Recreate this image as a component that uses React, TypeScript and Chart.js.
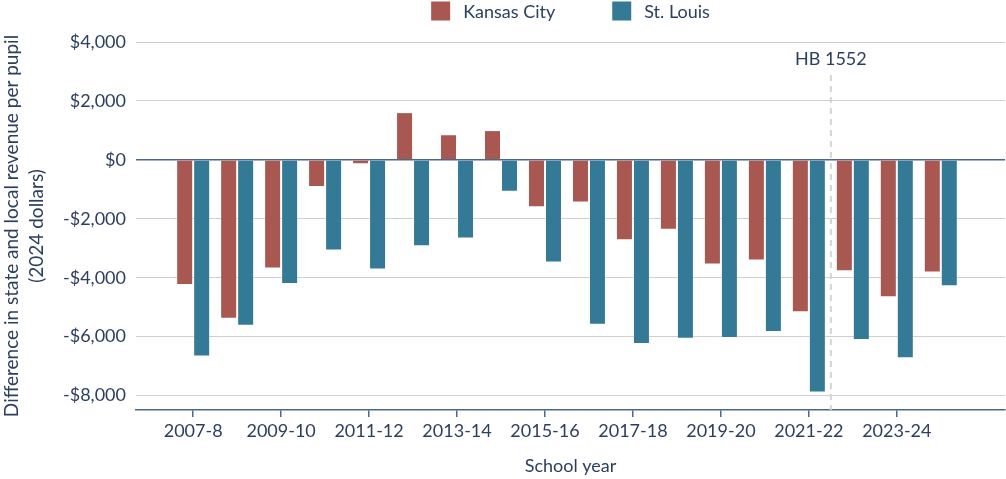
import { useEffect, useRef } from 'react';
import { Chart, registerables } from 'chart.js';

Chart.register(...registerables);

const categories = [
  '2007-8', '2008-9', '2009-10', '2010-11', '2011-12', '2012-13', '2013-14', '2014-15', '2015-16',
  '2016-17', '2017-18', '2018-19', '2019-20', '2020-21', '2021-22', '2022-23', '2023-24', '2024-25',
];
const startYear = 2007;
const kansasCity = [
  -4250, -5390, -3690, -920, -150, 1620, 870, 1010, -1610,
  -1450, -2730, -2370, -3550, -3420, -5170, -3780, -4660, -3820,
];
const stLouis = [
  -6670, -5630, -4210, -3080, -3720, -2930, -2670, -1080, -3480,
  -5600, -6250, -6070, -6050, -5840, -7900, -6110, -6730, -4290,
];
const xTickLabels = ['2007-8', '2009-10', '2011-12', '2013-14', '2015-16', '2017-18', '2019-20', '2021-22', '2023-24'];
const yTickValues = [4000, 2000, 0, -2000, -4000, -6000, -8000];
const seriesNames = ['Kansas City', 'St. Louis'];
const markerLabel = 'HB 1552';
const markerYear = 2021.5;

const TEXT = '#2b3f5e';
const AXIS = '#4d6788';
const FONT = 'Lato, "Open Sans", sans-serif';

const fmtMoney = (v: number) => (v < 0 ? '-$' : '$') + Math.abs(v).toLocaleString('en-US');

const customLegend = {
  id: 'customLegend',
  afterDraw(chart: any) {
    const ctx = chart.ctx;
    const fontSize = 18;
    const box = 19;
    const gap = 13;
    const itemGap = 57;
    ctx.save();
    ctx.font = `${fontSize}px ${FONT}`;
    const items = chart.data.datasets.map((d: any) => ({ text: d.label, color: d.backgroundColor }));
    const widths = items.map((it: any) => box + gap + ctx.measureText(it.text).width);
    const total = widths.reduce((a: number, b: number) => a + b, 0) + itemGap * (items.length - 1);
    const ca = chart.chartArea;
    let x = (ca.left + ca.right) / 2 - total / 2;
    const cy = 11;
    items.forEach((it: any, i: number) => {
      ctx.fillStyle = it.color;
      ctx.fillRect(x, cy - box / 2, box, box);
      ctx.fillStyle = TEXT;
      ctx.textBaseline = 'middle';
      ctx.textAlign = 'left';
      ctx.fillText(it.text, x + box + gap, cy + 1);
      x += widths[i] + itemGap;
    });
    ctx.restore();
  },
};

const markerPlugin = {
  id: 'markerLine',
  afterDatasetsDraw(chart: any) {
    const ctx = chart.ctx;
    const xs = chart.scales.x;
    const ca = chart.chartArea;
    const px = xs.getPixelForValue(markerYear);
    ctx.save();
    ctx.strokeStyle = '#d4d4d4';
    ctx.lineWidth = 2;
    ctx.setLineDash([6, 5]);
    ctx.beginPath();
    ctx.moveTo(px, 75);
    ctx.lineTo(px, ca.bottom);
    ctx.stroke();
    ctx.setLineDash([]);
    ctx.fillStyle = TEXT;
    ctx.font = `18px ${FONT}`;
    ctx.textAlign = 'center';
    ctx.textBaseline = 'middle';
    ctx.fillText(markerLabel, px, 59);
    ctx.restore();
  },
};

export default function App() {
  const ref = useRef<HTMLCanvasElement | null>(null);

  useEffect(() => {
    if (!ref.current) return;
    const chart = new Chart(ref.current, {
      type: 'bar',
      data: {
        datasets: [
          {
            label: seriesNames[0],
            data: kansasCity.map((v, i) => ({ x: startYear + i, y: v })),
            backgroundColor: '#a85751',
            borderColor: 'rgba(255,255,255,0.3)',
            borderWidth: 1,
          },
          {
            label: seriesNames[1],
            data: stLouis.map((v, i) => ({ x: startYear + i, y: v })),
            backgroundColor: '#347a97',
            borderColor: 'rgba(255,255,255,0.3)',
            borderWidth: 1,
          },
        ],
      },
      options: {
        animation: false,
        responsive: true,
        maintainAspectRatio: false,
        layout: { padding: { top: 42, right: 1, left: 0, bottom: 0 } },
        datasets: { bar: { categoryPercentage: 0.773, barPercentage: 1 } },
        plugins: {
          legend: { display: false },
          tooltip: { enabled: false },
        },
        scales: {
          x: {
            type: 'linear',
            offset: false,
            min: 2005.7,
            max: 2025.46,
            afterBuildTicks: (scale: any) => {
              scale.ticks = xTickLabels.map((l) => ({ value: startYear + categories.indexOf(l) }));
            },
            afterFit: (scale: any) => {
              scale.height = 69;
            },
            ticks: {
              autoSkip: false,
              maxRotation: 0,
              color: TEXT,
              font: { family: FONT, size: 18 },
              padding: 3,
              callback: (v: any) => categories[Math.round(Number(v)) - startYear],
            },
            grid: {
              offset: false,
              drawOnChartArea: false,
              drawTicks: true,
              tickLength: 7,
              color: AXIS,
              lineWidth: 1.5,
            },
            border: { display: true, color: AXIS, width: 1.5 },
            title: {
              display: true,
              text: 'School year',
              color: TEXT,
              font: { family: FONT, size: 18 },
              padding: { top: 0, bottom: 2 },
            },
          },
          y: {
            type: 'linear',
            min: -8490,
            max: 4000,
            afterBuildTicks: (scale: any) => {
              scale.ticks = yTickValues.map((v) => ({ value: v }));
            },
            afterFit: (scale: any) => {
              scale.width = 136;
            },
            ticks: {
              color: TEXT,
              font: { family: FONT, size: 18 },
              padding: 10,
              callback: (v: any) => fmtMoney(Number(v)),
            },
            grid: {
              drawTicks: false,
              color: (c: any) => (c.tick && c.tick.value === 0 ? AXIS : '#cfcfcf'),
              lineWidth: (c: any) => (c.tick && c.tick.value === 0 ? 1.5 : 1),
            },
            border: { display: false },
            title: {
              display: true,
              text: ['Difference in state and local revenue per pupil', '(2024 dollars)'],
              color: TEXT,
              font: { family: FONT, size: 19, lineHeight: 1.3 },
              padding: { top: 0, bottom: 0 },
            },
          },
        },
      },
      plugins: [customLegend, markerPlugin],
    } as any);
    return () => chart.destroy();
  }, []);

  return (
    <div style={{ position: 'fixed', left: 0, top: 0, width: 1006, height: 479, background: '#fff' }}>
      <canvas ref={ref} />
    </div>
  );
}
